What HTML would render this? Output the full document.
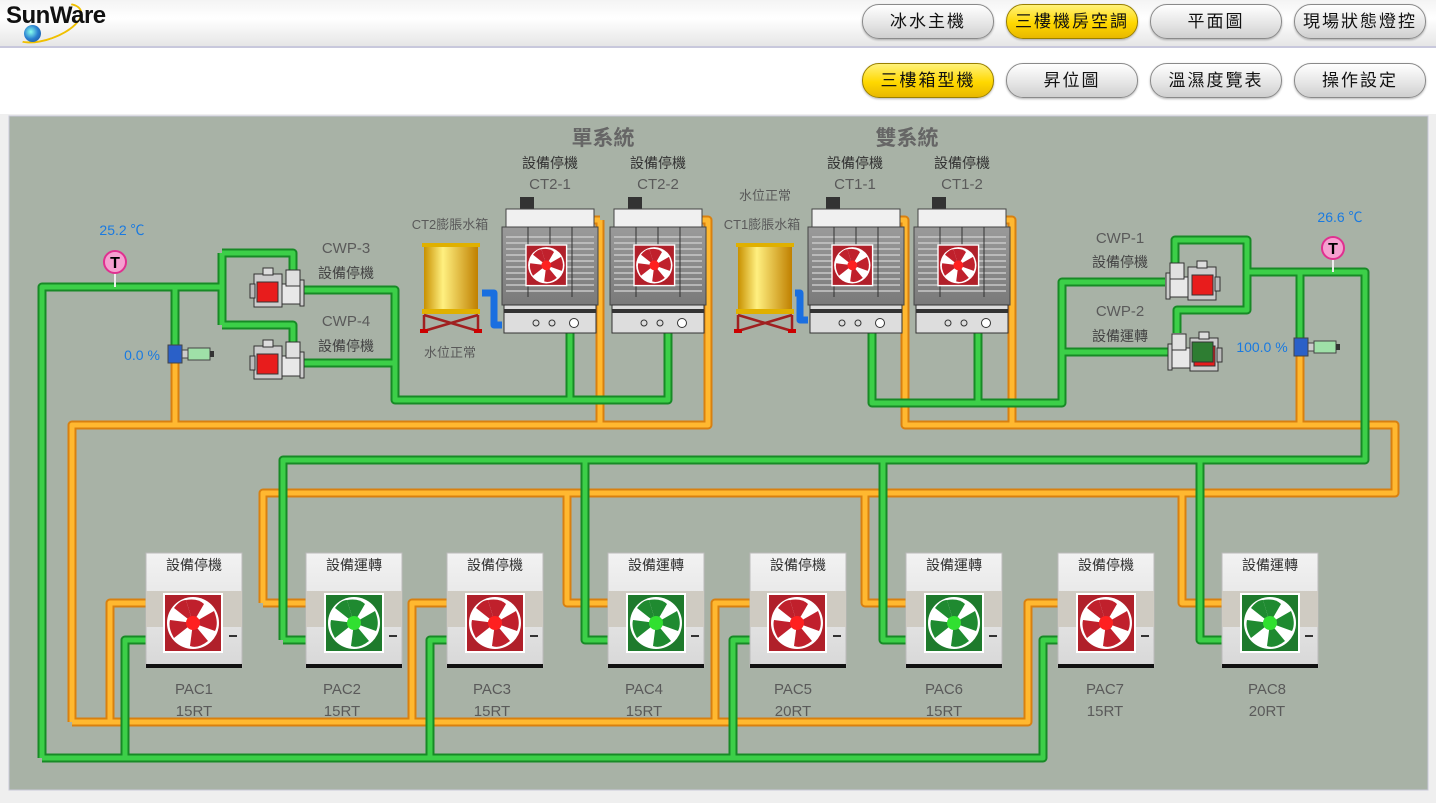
<!DOCTYPE html>
<html><head><meta charset="utf-8">
<style>
html,body{margin:0;padding:0;width:1436px;height:803px;overflow:hidden;background:#efefef;font-family:"Liberation Sans","Noto Sans CJK TC",sans-serif;}
#hdr{position:absolute;left:0;top:0;width:1436px;height:46px;background:linear-gradient(#f4f4f4,#ffffff 40%,#e6e6e6);border-bottom:2px solid #c8c8dc;}
#sub{position:absolute;left:0;top:48px;width:1436px;height:66px;background:#fff;}
.btn{position:absolute;width:130px;height:33px;border-radius:17px;border:1px solid #8a8a8a;background:linear-gradient(#ffffff,#e4e4e4 60%,#cfcfcf);font-size:17px;letter-spacing:2px;text-align:center;line-height:33px;color:#111;box-shadow:0 1px 2px rgba(0,0,0,.3);font-family:"Liberation Sans","Noto Sans CJK TC",sans-serif;}
.on{background:linear-gradient(#fff27a,#ffd800 55%,#e8b800);border-color:#9a8000;}
svg{position:absolute;left:0;top:0;}
</style></head><body>
<div id="hdr"></div><div id="sub"></div>
<div style="position:absolute;left:10px;top:6px;width:70px;height:30px;border:2px solid #f0c000;border-radius:50%;border-left-color:transparent;border-top-color:transparent;transform:rotate(-20deg);"></div>
<div style="position:absolute;left:6px;top:2px;font:bold 24px 'Liberation Sans',sans-serif;color:#111;letter-spacing:-0.5px;">SunWare</div>
<div style="position:absolute;left:24px;top:25px;width:17px;height:17px;border-radius:50%;background:radial-gradient(circle at 40% 40%,#8fe 0,#2a7fd0 50%,#1a4f90);"></div>
<div class="btn" style="left:862px;top:4px">冰水主機</div>
<div class="btn on" style="left:1006px;top:4px">三樓機房空調</div>
<div class="btn" style="left:1150px;top:4px">平面圖</div>
<div class="btn" style="left:1294px;top:4px">現場狀態燈控</div>
<div class="btn on" style="left:862px;top:63px">三樓箱型機</div>
<div class="btn" style="left:1006px;top:63px">昇位圖</div>
<div class="btn" style="left:1150px;top:63px">溫濕度覽表</div>
<div class="btn" style="left:1294px;top:63px">操作設定</div>

<svg width="1436" height="803" viewBox="0 0 1436 803" font-family="Liberation Sans, Noto Sans CJK TC, sans-serif">
<defs>
<linearGradient id="tank" x1="0" x2="1"><stop offset="0" stop-color="#c89000"/><stop offset=".35" stop-color="#fff080"/><stop offset="1" stop-color="#c08000"/></linearGradient>
<linearGradient id="ctg" x1="0" y1="0" x2="0" y2="1"><stop offset="0" stop-color="#9a9a9a"/><stop offset="1" stop-color="#7a7a7a"/></linearGradient>
<linearGradient id="pacg" x1="0" y1="0" x2="0" y2="1"><stop offset="0" stop-color="#f2f2f2"/><stop offset="1" stop-color="#d8d8d8"/></linearGradient>
<g id="fanR"><rect x="0" y="0" width="58" height="58" fill="#b0202a" stroke="#fff" stroke-width="2"/><circle cx="29" cy="29" r="26" fill="#fff"/><g fill="#c0202c"><path d="M29 29 L22 6 Q34 4 40 10Z"/><path d="M29 29 L50 17 Q55 29 51 37Z"/><path d="M29 29 L44 47 Q34 55 26 52Z"/><path d="M29 29 L10 44 Q4 34 6 26Z"/><path d="M29 29 L10 14 Q16 6 22 6Z"/></g><circle cx="29" cy="29" r="7" fill="#ff2020"/></g>
<g id="fanG"><rect x="0" y="0" width="58" height="58" fill="#1e7a2c" stroke="#fff" stroke-width="2"/><circle cx="29" cy="29" r="26" fill="#fff"/><g fill="#1f8a30"><path d="M29 29 L22 6 Q34 4 40 10Z"/><path d="M29 29 L50 17 Q55 29 51 37Z"/><path d="M29 29 L44 47 Q34 55 26 52Z"/><path d="M29 29 L10 44 Q4 34 6 26Z"/><path d="M29 29 L10 14 Q16 6 22 6Z"/></g><circle cx="29" cy="29" r="7" fill="#30e030"/></g>
<g id="pac"><rect x="0" y="0" width="96" height="114" fill="url(#pacg)" stroke="#bbb"/><rect x="0" y="38" width="96" height="36" fill="#cfcbc2"/><rect x="0" y="111" width="96" height="4" fill="#111"/><rect x="83" y="82" width="8" height="2" fill="#333"/></g>
<g id="ct"><rect x="14" y="0" width="14" height="14" fill="#333"/><rect x="0" y="12" width="88" height="18" fill="#f0f0f0" stroke="#444"/><rect x="-4" y="30" width="96" height="78" fill="url(#ctg)" stroke="#444"/><g stroke="#c8c8c8" stroke-width="1.5"><path d="M0 40H88M0 46H88M0 52H88M0 58H88M0 64H88M0 70H88M0 76H88M0 82H88M0 88H88M0 94H88"/></g><g stroke="#333"><path d="M22 30V100M44 30V50M66 30V100"/></g><rect x="-2" y="108" width="92" height="28" fill="#ddd" stroke="#333"/><rect x="-2" y="112" width="92" height="4" fill="#333"/><circle cx="30" cy="126" r="3" fill="none" stroke="#333"/><circle cx="46" cy="126" r="3" fill="none" stroke="#333"/><circle cx="68" cy="126" r="4.5" fill="#fff" stroke="#333"/></g>
<g id="tnk"><rect x="2" y="0" width="58" height="4" fill="#e0b000"/><rect x="4" y="4" width="54" height="62" fill="url(#tank)"/><rect x="2" y="66" width="58" height="5" fill="#e0b000"/><g stroke="#a02020" stroke-width="2.5" fill="none"><path d="M4 72V88M58 72V88M4 72L58 88M58 72L4 88"/></g><rect x="0" y="86" width="8" height="4" fill="#c00"/><rect x="54" y="86" width="8" height="4" fill="#c00"/></g>
<g id="pumpL"><rect x="4" y="4" width="28" height="33" fill="#ccc" stroke="#333"/><rect x="7" y="12" width="21" height="20" fill="#e81c1c" stroke="#333"/><rect x="13" y="-2" width="10" height="7" fill="#ddd" stroke="#333"/><rect x="0" y="14" width="5" height="14" fill="#bbb" stroke="#333"/><rect x="32" y="14" width="20" height="20" fill="#e8e8e8" stroke="#333"/><rect x="36" y="0" width="14" height="16" fill="#e0e0e0" stroke="#333"/><rect x="50" y="10" width="4" height="26" fill="#ccc" stroke="#333"/></g>
<g id="valve"><rect x="0" y="0" width="14" height="18" fill="#2a60c8" stroke="#444"/><rect x="14" y="5" width="6" height="8" fill="#ccc" stroke="#444"/><rect x="20" y="3" width="22" height="12" fill="#9fe0a8" stroke="#444"/><rect x="42" y="6" width="4" height="6" fill="#333"/></g>
<g id="tsens"><circle r="11" fill="#f5a0d0" stroke="#e03090" stroke-width="2"/><text y="6" text-anchor="middle" font-size="16" font-weight="bold" fill="#000">T</text></g>
</defs>

<rect x="9" y="116" width="1419" height="674" fill="#a8b2a6" stroke="#c8c8d8"/>

<g fill="none" id="op">
<path d="M175 362V425M72 722V425H708V220H690M600 220H588M600 220V425"/>
<path d="M72 722H1028V603H1058M110 722V603H146M412 722V603H447M715 722V603H750"/>
<path d="M263 603H306M263 603V493H1395V425H905V220H896M1012 425V220H1002M1300 356V425"/>
<path d="M567 493V603H608M865 493V603H906M1182 493V603H1222"/>
</g>
<use href="#op" stroke="#d88010" stroke-width="9" fill="none" stroke-linejoin="round"/>
<use href="#op" stroke="#ffb830" stroke-width="5" fill="none" stroke-linejoin="round"/>

<g fill="none" id="gp">
<path d="M42 758V287H222M175 287V345M222 253V325M222 253H293V272M222 325H293V343"/>
<path d="M303 290H395V400H668V333M303 363H395M570 333V400"/>
<path d="M42 758H1043V640H1058M125 758V640H146M430 758V640H447M733 758V640H750"/>
<path d="M283 640H306M283 640V460H1365V272H1247M585 460V640H608M883 460V640H906M1200 460V640H1222"/>
<path d="M872 333V403H1062V282H1165M1062 352H1170M978 333V403"/>
<path d="M1175 265V240H1247V310H1177V333M1300 272V338"/>
</g>
<use href="#gp" stroke="#178a26" stroke-width="9" fill="none" stroke-linejoin="round"/>
<use href="#gp" stroke="#3ccf48" stroke-width="5" fill="none" stroke-linejoin="round"/>
<path d="M482 293H494V325H502" stroke="#1a6fe0" stroke-width="7" fill="none" stroke-linejoin="round"/>
<path d="M795 293H800V320H808" stroke="#1a6fe0" stroke-width="7" fill="none" stroke-linejoin="round"/>

<use href="#ct" x="506" y="197"/><use href="#ct" x="614" y="197"/>
<use href="#ct" x="812" y="197"/><use href="#ct" x="918" y="197"/>
<use href="#fanR" transform="translate(526,245) scale(0.7)"/>
<use href="#fanR" transform="translate(634,245) scale(0.7)"/>
<use href="#fanR" transform="translate(832,245) scale(0.7)"/>
<use href="#fanR" transform="translate(938,245) scale(0.7)"/>
<use href="#tnk" x="420" y="243"/><use href="#tnk" x="734" y="243"/>

<use href="#pumpL" x="250" y="270"/><use href="#pumpL" x="250" y="342"/>
<g transform="translate(1220,263) scale(-1,1)"><use href="#pumpL"/></g>
<g transform="translate(1222,334) scale(-1,1)"><use href="#pumpL"/></g>
<rect x="1192" y="342" width="21" height="20" fill="#2e7d32" stroke="#333"/>

<use href="#valve" x="168" y="345"/><use href="#valve" x="1294" y="338"/>
<line x1="115" y1="272" x2="115" y2="287" stroke="#eee" stroke-width="2"/>
<use href="#tsens" x="115" y="262"/>
<line x1="1333" y1="258" x2="1333" y2="272" stroke="#eee" stroke-width="2"/>
<use href="#tsens" x="1333" y="248"/>

<g>
<use href="#pac" x="146" y="553"/><use href="#fanR" x="164" y="594"/>
<use href="#pac" x="306" y="553"/><use href="#fanG" x="325" y="594"/>
<use href="#pac" x="447" y="553"/><use href="#fanR" x="466" y="594"/>
<use href="#pac" x="608" y="553"/><use href="#fanG" x="627" y="594"/>
<use href="#pac" x="750" y="553"/><use href="#fanR" x="768" y="594"/>
<use href="#pac" x="906" y="553"/><use href="#fanG" x="925" y="594"/>
<use href="#pac" x="1058" y="553"/><use href="#fanR" x="1077" y="594"/>
<use href="#pac" x="1222" y="553"/><use href="#fanG" x="1241" y="594"/>
</g>
<g font-size="14" fill="#333" text-anchor="middle">
<text x="194" y="570">設備停機</text><text x="354" y="570">設備運轉</text><text x="495" y="570">設備停機</text><text x="656" y="570">設備運轉</text>
<text x="798" y="570">設備停機</text><text x="954" y="570">設備運轉</text><text x="1106" y="570">設備停機</text><text x="1270" y="570">設備運轉</text>
</g>
<g font-size="15" fill="#5a5a5a" text-anchor="middle">
<text x="194" y="694">PAC1</text><text x="194" y="716">15RT</text>
<text x="342" y="694">PAC2</text><text x="342" y="716">15RT</text>
<text x="492" y="694">PAC3</text><text x="492" y="716">15RT</text>
<text x="644" y="694">PAC4</text><text x="644" y="716">15RT</text>
<text x="793" y="694">PAC5</text><text x="793" y="716">20RT</text>
<text x="944" y="694">PAC6</text><text x="944" y="716">15RT</text>
<text x="1105" y="694">PAC7</text><text x="1105" y="716">15RT</text>
<text x="1267" y="694">PAC8</text><text x="1267" y="716">20RT</text>
</g>
<g fill="#5a5a5a" text-anchor="middle">
<text x="603" y="145" font-size="21" font-weight="bold" fill="#666">單系統</text>
<text x="907" y="145" font-size="21" font-weight="bold" fill="#666">雙系統</text>
<g font-size="14" fill="#333"><text x="550" y="168">設備停機</text><text x="658" y="168">設備停機</text><text x="855" y="168">設備停機</text><text x="962" y="168">設備停機</text></g>
<g font-size="15"><text x="550" y="189">CT2-1</text><text x="658" y="189">CT2-2</text><text x="855" y="189">CT1-1</text><text x="962" y="189">CT1-2</text></g>
<g font-size="13"><text x="765" y="200">水位正常</text><text x="762" y="229">CT1膨脹水箱</text><text x="450" y="229">CT2膨脹水箱</text><text x="450" y="357">水位正常</text></g>
<g font-size="15"><text x="346" y="253">CWP-3</text><text x="346" y="326">CWP-4</text><text x="1120" y="243">CWP-1</text><text x="1120" y="316">CWP-2</text></g>
<g font-size="14" fill="#444"><text x="346" y="278">設備停機</text><text x="346" y="351">設備停機</text><text x="1120" y="267">設備停機</text><text x="1120" y="341">設備運轉</text></g>
</g>
<g fill="#1a7ae0" font-size="14" text-anchor="middle">
<text x="122" y="235">25.2 ℃</text><text x="1340" y="222">26.6 ℃</text>
<text x="142" y="360">0.0 %</text><text x="1262" y="352">100.0 %</text>
</g>
</svg>
</body></html>
